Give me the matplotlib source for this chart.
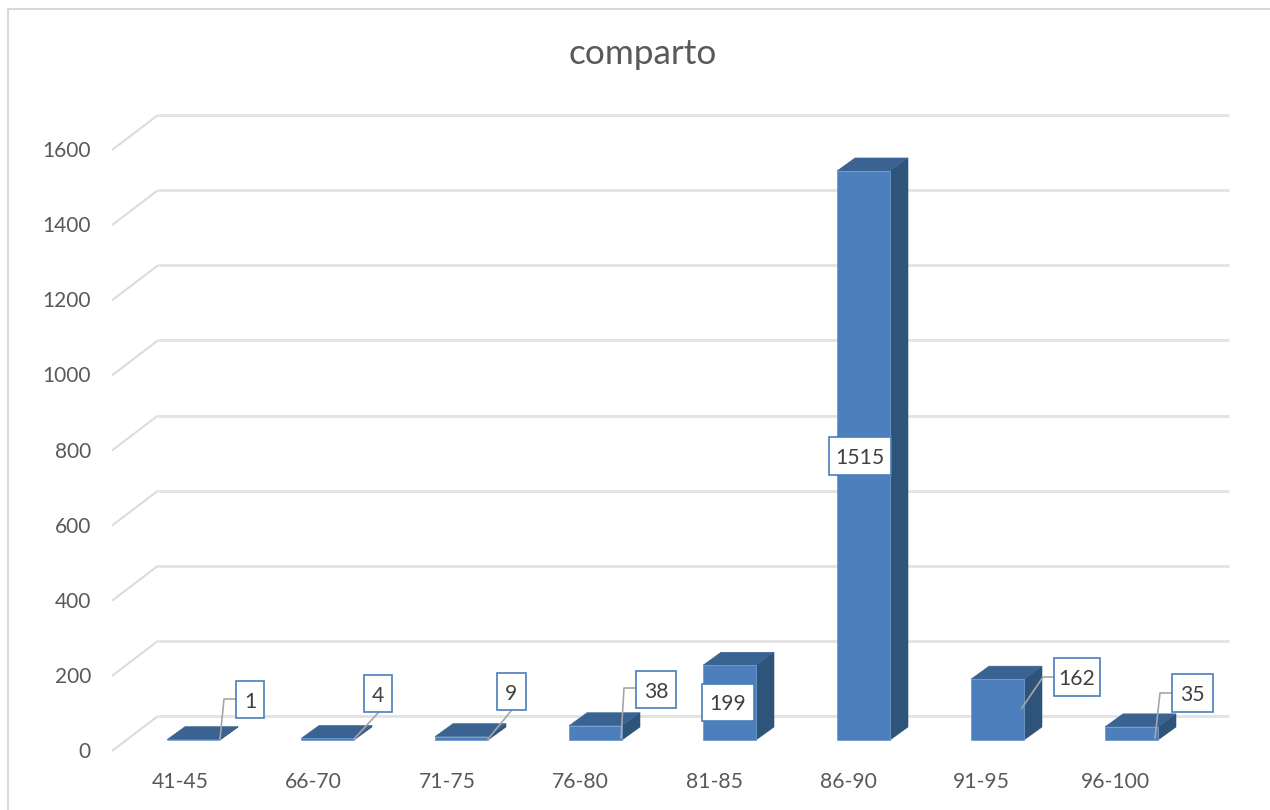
import matplotlib
matplotlib.use('Agg')
import matplotlib.pyplot as plt
from matplotlib.patches import Polygon, Rectangle

plt.rcParams['font.family'] = ['Lato', 'DejaVu Sans']

title = 'comparto'
categories = ['41-45', '66-70', '71-75', '76-80', '81-85', '86-90', '91-95', '96-100']
values = [1, 4, 9, 38, 199, 1515, 162, 35]
y_ticks = [0, 200, 400, 600, 800, 1000, 1200, 1400, 1600]

FRONT = '#4d7fbc'
SIDE = '#2f5479'
TOP = '#3a6391'
GRID = '#e3e3e3'
TEXT = '#595959'
BOX = '#4a7ebb'

W, H = 1270, 810
STEP = 134.0       # pixels between categories
LABEL_STEP = 133.6 # category labels run slightly tighter than the bars
BAR_W = 53.0
FIRST_X = 193.5    # centre of first bar
BASE_Y = 740.0     # pixel row of value 0 at bar front
SCALE = 0.3756     # pixels per unit

fig = plt.figure(figsize=(W / 100, H / 100), dpi=100)
ax = fig.add_axes([0, 0, 1, 1])
ax.set_xlim(-FIRST_X / STEP, (W - FIRST_X) / STEP)
ax.set_ylim((BASE_Y - H) / SCALE, BASE_Y / SCALE)
ax.axis('off')


def px(x, y):
    # pixel position to data position
    return (x - FIRST_X) / STEP, (BASE_Y - y) / SCALE


def shift(x, v, dx, dy):
    # move a data point by a depth offset given in pixels
    return x + dx / STEP, v + dy / SCALE


# outer chart border
ax.plot(*zip(px(8, H), px(8, 8.5), px(W, 8.5)), color='#d9d9d9', lw=1.5, zorder=1)

# walls: slanted part on the left, long line along the back
for t in y_ticks:
    x0, y0 = px(112, 751 - t * SCALE)
    x1, y1 = px(158, 716 - t * SCALE)
    x2, y2 = px(1229, 716 - t * SCALE)
    ax.plot([x0, x1], [y0, y1], color='#dcdcdc', lw=1.5, zorder=2, solid_capstyle='butt')
    ax.plot([x1, x2], [y1, y2], color=GRID, lw=2.1, zorder=2, solid_capstyle='butt')
    lx, ly = px(91, 752 - t * SCALE)
    ax.text(lx, ly, str(t), ha='right', va='center', fontsize=15, color=TEXT)

# bars as three faces
half = BAR_W / STEP / 2
for i, v in enumerate(values):
    l, r = i - half, i + half
    front = [(l, 0), (r, 0), (r, v), (l, v)]
    top = [(l, v), (r, v), shift(r, v, 18, 13), shift(l, v, 18, 13)]
    side = [(r, 0), shift(r, 0, 18, 13), shift(r, v, 18, 13), (r, v)]
    ax.add_patch(Polygon(side, fc=SIDE, ec=SIDE, lw=0.4, zorder=3))
    ax.add_patch(Polygon(top, fc=TOP, ec=TOP, lw=0.4, zorder=3))
    ax.add_patch(Polygon(front, fc=FRONT, ec='#6f9bd0', lw=0.6, zorder=4))
    lx, ly = px(180 + i * LABEL_STEP, 782)
    ax.text(lx, ly, categories[i], ha='center', va='center', fontsize=15.2, color=TEXT)

# data label boxes: left, top, right, bottom in pixels
label_boxes = [
    (236, 681, 264, 718),
    (364, 675, 392, 712),
    (497, 673, 526, 710),
    (636, 671, 676, 708),
    (702, 684, 754, 721),
    (829, 437, 891, 475),
    (1054, 658, 1100, 696),
    (1172, 674, 1213, 712),
]
leaders = [
    [(220, 739), (224, 699), (236, 699)],
    [(354, 739), (378, 713)],
    [(488, 739), (511, 711)],
    [(621, 738), (624, 688), (636, 688)],
    [],
    [],
    [(1022, 708), (1043, 677), (1054, 677)],
    [(1155, 738), (1160, 693), (1172, 693)],
]

for i, v in enumerate(values):
    if leaders[i]:
        ax.plot(*zip(*[px(a, b) for a, b in leaders[i]]), color='#a6a6a6', lw=1.2, zorder=5)
    x0, y0, x1, y1 = label_boxes[i]
    a, b = px(x0, y1)
    c, d = px(x1, y0)
    ax.add_patch(Rectangle((a, b), c - a, d - b, fc='white', ec=BOX, lw=1.2, zorder=6))
    ax.text((a + c) / 2, (b + d) / 2 - 2 / SCALE, str(v), ha='center', va='center',
            fontsize=15.2, color='#404040', zorder=7)

tx, ty = px(643, 54.5)
ax.text(tx, ty, title, ha='center', va='center', fontsize=25.3, color=TEXT)

fig.savefig('out.png', dpi=100)
